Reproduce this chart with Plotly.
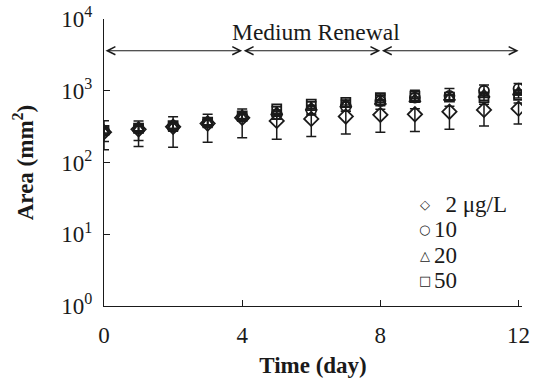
import math
import plotly.graph_objects as go

# Leaf area over time for four exposure concentrations
days = list(range(13))

area_2 = [265, 290, 315, 350, 420, 380, 405, 438, 462, 470, 510, 540, 563]
err_2_plus = [40, 40, 45, 45, 50, 60, 70, 80, 90, 90, 100, 110, 110]
err_2_minus = [115, 123, 152, 158, 198, 169, 175, 188, 199, 199, 220, 217, 218]

area_10 = [275, 298, 322, 362, 435, 470, 540, 610, 720, 800, 850, 1000, 1070]
err_10_plus = [108, 81, 113, 108, 122, 130, 160, 120, 180, 220, 227, 200, 195]
err_10_minus = [79, 96, 50, 55, 60, 70, 80, 90, 100, 110, 110, 130, 140]

area_20 = [270, 295, 318, 358, 428, 500, 580, 640, 700, 760, 800, 880, 950]
err_20 = [22, 24, 25, 28, 34, 40, 46, 50, 56, 60, 64, 70, 76]

area_50 = [280, 300, 325, 365, 445, 560, 650, 690, 800, 840, 815, 800, 860]
err_50 = [22, 24, 26, 29, 35, 45, 52, 55, 64, 67, 65, 64, 69]

series_names = ["2 μg/L", "10", "20", "50"]
legend_glyphs = ["◇", "○", "△", "□"]
legend_labels = ["&nbsp;&nbsp;2 μg/L", "10", "20", "50"]
y_tick_vals = [1, 10, 100, 1000, 10000]
y_tick_text = ["10<sup>0</sup>", "10<sup>1</sup>", "10<sup>2</sup>", "10<sup>3</sup>", "10<sup>4</sup>"]
x_tick_vals = [0, 4, 8, 12]
renewal_days = [0, 4, 8, 12]
renewal_level = 3614

FONT = "Liberation Serif, Times New Roman, serif"
INK = "#1a1a1a"

fig = go.Figure()

specs = [
    (area_2, err_2_plus, err_2_minus, "diamond-open", 11),
    (area_10, err_10_plus, err_10_minus, "circle-open", 10),
    (area_20, err_20, err_20, "triangle-up-open", 10),
    (area_50, err_50, err_50, "square-open", 9),
]
for name, (vals, ep, em, sym, size) in zip(series_names, specs):
    fig.add_trace(go.Scatter(
        x=days, y=vals, mode="markers", name=name, showlegend=False,
        marker=dict(symbol=sym, size=size, color=INK, line=dict(width=1.8, color=INK)),
        error_y=dict(type="data", array=ep, arrayminus=em, symmetric=False,
                     color=INK, thickness=1.5, width=5),
    ))

# Medium renewal intervals: double-headed arrows between renewal days
for a, b in zip(renewal_days[:-1], renewal_days[1:]):
    fig.add_annotation(
        x=b, y=math.log10(renewal_level), ax=a, ay=math.log10(renewal_level),
        xref="x", yref="y", axref="x", ayref="y", text="",
        showarrow=True, arrowhead=5, startarrowhead=5, arrowside="end+start",
        arrowsize=1.45, startarrowsize=1.45, arrowwidth=1.1, arrowcolor=INK,
        standoff=0, startstandoff=0,
    )
fig.add_annotation(
    x=6.14, y=0.955, xref="x", yref="paper", text="Medium Renewal",
    showarrow=False, font=dict(family=FONT, size=23.5, color=INK),
    xanchor="center", yanchor="middle",
)

# Key: symbol glyph plus concentration label, one row per series
key_rows = [0.352, 0.265, 0.176, 0.089]
for glyph, label, yy in zip(legend_glyphs, legend_labels, key_rows):
    fig.add_annotation(
        x=0.767, y=yy, xref="paper", yref="paper", text=glyph, showarrow=False,
        font=dict(family="DejaVu Sans", size=13, color=INK),
        xanchor="center", yanchor="middle",
    )
    fig.add_annotation(
        x=0.785, y=yy, xref="paper", yref="paper", text=label, showarrow=False,
        font=dict(family=FONT, size=23, color=INK),
        xanchor="left", yanchor="middle",
    )

fig.update_layout(
    width=535, height=378,
    margin=dict(l=104, r=13, t=19, b=72, autoexpand=False),
    paper_bgcolor="white", plot_bgcolor="white",
    font=dict(family=FONT, size=23, color=INK),
    showlegend=False,
    xaxis=dict(
        range=[0, 12.1], tickvals=x_tick_vals, ticks="inside", ticklen=6,
        tickwidth=1.3, tickcolor=INK, showline=True, linecolor=INK, linewidth=1.4,
        showgrid=False, zeroline=False, ticklabelstandoff=8, automargin=False,
        tickfont=dict(family=FONT, size=23, color=INK),
        title=dict(text="<b>Time (day)</b>", standoff=12,
                   font=dict(family=FONT, size=23, color=INK)),
    ),
    yaxis=dict(
        type="log", range=[0, 4], tickvals=y_tick_vals, ticktext=y_tick_text,
        ticks="inside", ticklen=6, tickwidth=1.3, tickcolor=INK,
        showline=True, linecolor=INK, linewidth=1.4, showgrid=False, zeroline=False,
        ticklabelstandoff=6, automargin=False,
        tickfont=dict(family=FONT, size=23, color=INK),
        title=dict(text="<b>Area (mm<sup>2</sup>)</b>", standoff=21,
                   font=dict(family=FONT, size=23, color=INK)),
    ),
)

fig.write_html("out.html")
